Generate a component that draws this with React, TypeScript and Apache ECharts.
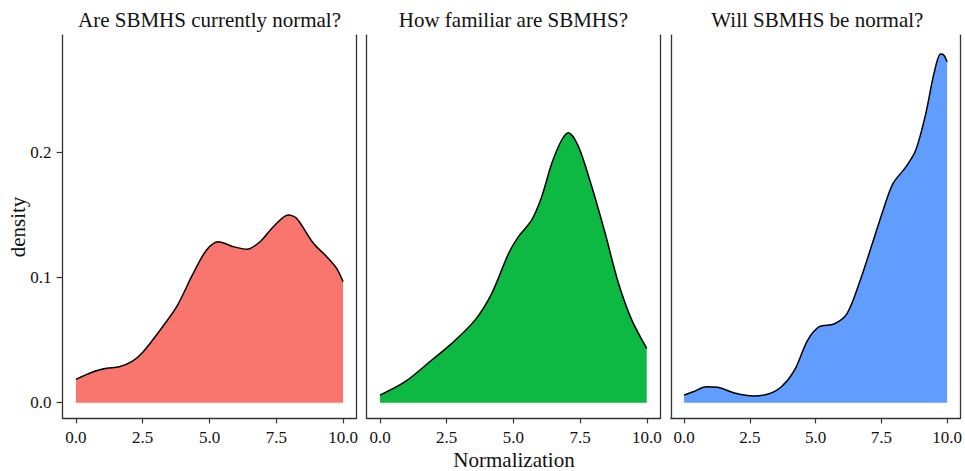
import React, { useEffect, useRef } from "react";
import * as echarts from "echarts";

const panelTitles = ["Are SBMHS currently normal?", "How familiar are SBMHS?", "Will SBMHS be normal?"];
const xTickValues = [0, 2.5, 5, 7.5, 10];
const yTickValues = [0, 0.1, 0.2];
const fillColors = ["#F8766D", "#0DB843", "#619CFF"];

const currentX = [0, 0.65, 1.15, 1.62, 2.09, 2.52, 3.15, 3.77, 4.39, 4.89, 5.33, 5.9, 6.4, 6.89, 7.39, 7.95, 8.26, 8.89, 9.39, 9.76, 10];
const currentY = [0.0187, 0.0248, 0.0275, 0.0288, 0.0328, 0.0408, 0.058, 0.0767, 0.1033, 0.122, 0.1286, 0.1246, 0.1225, 0.1286, 0.1406, 0.15, 0.1473, 0.1273, 0.1166, 0.1073, 0.0966];

const familiarX = [0, 0.94, 1.94, 2.69, 3.56, 4.19, 4.82, 5.19, 5.69, 6.06, 6.44, 6.81, 7.06, 7.44, 7.94, 8.44, 8.94, 9.44, 10];
const familiarY = [0.0061, 0.0168, 0.0341, 0.0474, 0.066, 0.0874, 0.1193, 0.1326, 0.146, 0.1645, 0.1912, 0.2098, 0.2157, 0.2045, 0.1725, 0.1353, 0.0954, 0.066, 0.0434];

const futureX = [0, 0.35, 0.84, 1.28, 1.96, 2.65, 3.2, 3.7, 4.2, 4.7, 5.14, 5.7, 6.2, 6.7, 7.2, 7.57, 7.94, 8.44, 8.81, 9.19, 9.5, 9.75, 9.87, 10];
const futureY = [0.0061, 0.0088, 0.0128, 0.0123, 0.0075, 0.0054, 0.007, 0.0128, 0.0261, 0.05, 0.0607, 0.0629, 0.0714, 0.098, 0.13, 0.154, 0.175, 0.1885, 0.2018, 0.231, 0.263, 0.2785, 0.2777, 0.2723];

const xAxisTitle = "Normalization";
const yAxisTitle = "density";

const seriesX = [currentX, familiarX, futureX];
const seriesY = [currentY, familiarY, futureY];

const FONT = "'Liberation Serif', 'Times New Roman', serif";
const AXIS_COLOR = "#333333";

export default function App() {
  const ref = useRef<HTMLDivElement>(null);
  useEffect(() => {
    document.body.style.margin = "0";
    if (!ref.current) return;
    const chart = echarts.init(ref.current, undefined, { renderer: "svg" });
    const grids = [
      { left: 62.6, top: 35.2, width: 293.8, height: 383.2 },
      { left: 366.7, top: 35.2, width: 293.4, height: 383.2 },
      { left: 670.9, top: 35.2, width: 293.0, height: 383.2 },
    ];
    const xAxes: any[] = [];
    const yAxes: any[] = [];
    const series: any[] = [];
    const graphics: any[] = [];
    grids.forEach((g, i) => {
      xAxes.push({
        type: "value",
        gridIndex: i,
        min: -0.5,
        max: 10.5,
        axisLine: { show: true, onZero: false, lineStyle: { color: AXIS_COLOR, width: 1.3 } },
        axisTick: { show: true, length: 5, customValues: xTickValues, lineStyle: { color: AXIS_COLOR, width: 1.2 } },
        axisLabel: {
          show: true,
          customValues: xTickValues,
          formatter: (v: number) => v.toFixed(1),
          margin: 11,
          fontFamily: FONT,
          fontSize: 17,
          color: "#111",
        },
        splitLine: { show: false },
      });
      yAxes.push({
        type: "value",
        gridIndex: i,
        position: "left",
        min: -0.0125,
        max: 0.2935,
        axisLine: { show: true, onZero: false, lineStyle: { color: AXIS_COLOR, width: 1.3 } },
        axisTick: { show: i === 0, length: 6, customValues: yTickValues, lineStyle: { color: AXIS_COLOR, width: 1.2 } },
        axisLabel: {
          show: i === 0,
          customValues: yTickValues,
          formatter: (v: number) => v.toFixed(1),
          margin: 11,
          fontFamily: FONT,
          fontSize: 17,
          color: "#111",
        },
        splitLine: { show: false },
      });
      yAxes.push({
        type: "value",
        gridIndex: i,
        position: "right",
        min: -0.0125,
        max: 0.2935,
        axisLine: { show: true, onZero: false, lineStyle: { color: AXIS_COLOR, width: 1.3 } },
        axisTick: { show: false },
        axisLabel: { show: false },
        splitLine: { show: false },
      });
      series.push({
        type: "line",
        xAxisIndex: i,
        yAxisIndex: i * 2,
        data: seriesX[i].map((x, k) => [x, seriesY[i][k]]),
        smooth: 0.3,
        showSymbol: false,
        symbol: "none",
        lineStyle: { color: "#000", width: 1.5 },
        itemStyle: { color: fillColors[i] },
        areaStyle: { color: fillColors[i], opacity: 1, origin: 0 },
        z: 2,
      });
      graphics.push({
        type: "text",
        x: g.left + g.width / 2,
        y: 20,
        style: {
          text: panelTitles[i],
          fontFamily: FONT,
          fontSize: 21,
          fill: "#111",
          align: "center",
          verticalAlign: "middle",
        },
      });
    });
    graphics.push({
      type: "text",
      x: 514,
      y: 460,
      style: {
        text: xAxisTitle,
        fontFamily: FONT,
        fontSize: 21,
        fill: "#111",
        align: "center",
        verticalAlign: "middle",
      },
    });
    graphics.push({
      type: "text",
      x: 18,
      y: 227,
      rotation: Math.PI / 2,
      style: {
        text: yAxisTitle,
        fontFamily: FONT,
        fontSize: 21,
        fill: "#111",
        align: "center",
        verticalAlign: "middle",
      },
    });
    chart.setOption({
      animation: false,
      backgroundColor: "#ffffff",
      grid: grids,
      xAxis: xAxes,
      yAxis: yAxes,
      series,
      graphic: graphics,
    });
    return () => chart.dispose();
  }, []);
  return <div ref={ref} style={{ width: 965, height: 471 }} />;
}
